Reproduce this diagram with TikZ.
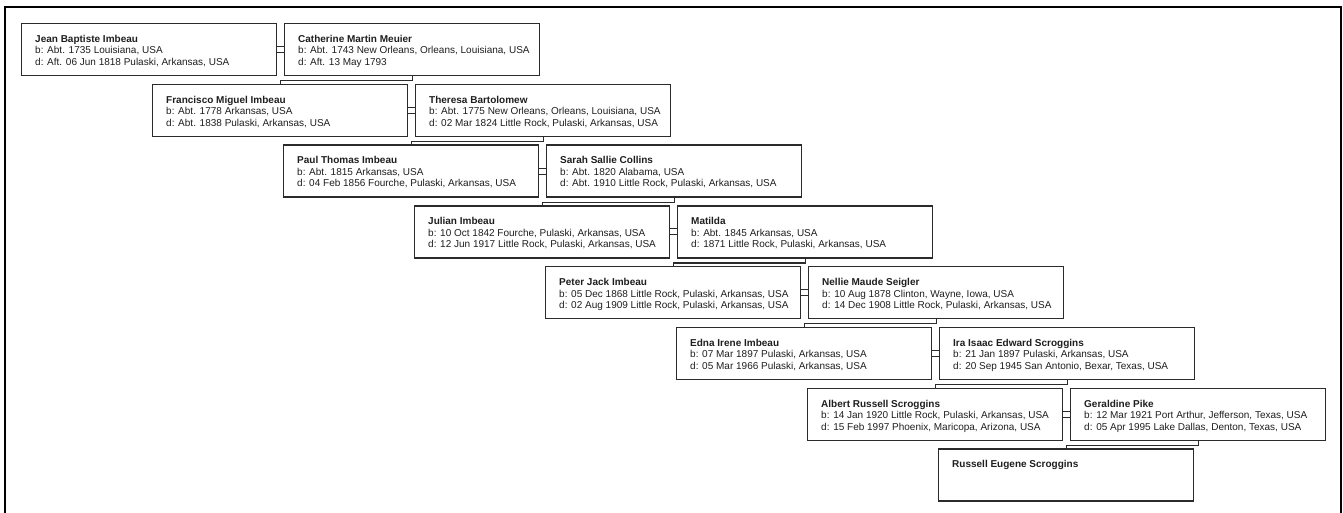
\documentclass[tikz,border=0pt]{standalone}
\usepackage{fontspec}
\setmainfont{Liberation Sans}
\definecolor{boxline}{HTML}{2B2B2B}
\definecolor{ink}{HTML}{1E1E1E}
\newcommand{\persinfo}[3]{\begin{tabular}[t]{@{}l@{}}\textbf{#1}\\ b: #2\\ d: #3\end{tabular}}
\newcommand{\persname}[1]{\begin{tabular}[t]{@{}l@{}}\textbf{#1}\end{tabular}}
\tikzset{
  person/.style={draw=boxline, line width=1.3pt, rectangle, minimum width=255pt,
    minimum height=52pt, inner sep=0pt, anchor=north west},
  info/.style={anchor=base west, inner sep=0pt, text=ink, font=\fontsize{10}{11.5}\selectfont},
  marriage/.style={draw=boxline, line width=1.1pt},
  descent/.style={draw=boxline, line width=1.3pt},
  frame/.style={draw=black, line width=2pt}
}
\begin{document}
\begin{tikzpicture}[x=1pt,y=-1pt]
\useasboundingbox (0,0) rectangle (1343,513);
\draw[frame] (5,530) -- (5,7) -- (1341,7) -- (1341,530);

% row 0
\node[person] (h0) at (21,23) {};
\node[info] (h0t) at ([shift={(14pt,-19.5pt)}]h0.north west) {\persinfo{Jean Baptiste Imbeau}{Abt. 1735 Louisiana, USA}{Aft. 06 Jun 1818 Pulaski, Arkansas, USA}};
\node[person] (w0) at (284,23) {};
\node[info] (w0t) at ([shift={(14pt,-19.5pt)}]w0.north west) {\persinfo{Catherine Martin Meuier}{Abt. 1743 New Orleans, Orleans, Louisiana, USA}{Aft. 13 May 1793}};
% row 1
\node[person] (h1) at (152,83.75) {};
\node[info] (h1t) at ([shift={(14pt,-19.5pt)}]h1.north west) {\persinfo{Francisco Miguel Imbeau}{Abt. 1778 Arkansas, USA}{Abt. 1838 Pulaski, Arkansas, USA}};
\node[person] (w1) at (415,83.75) {};
\node[info] (w1t) at ([shift={(14pt,-19.5pt)}]w1.north west) {\persinfo{Theresa Bartolomew}{Abt. 1775 New Orleans, Orleans, Louisiana, USA}{02 Mar 1824 Little Rock, Pulaski, Arkansas, USA}};
% row 2
\node[person] (h2) at (283,144.5) {};
\node[info] (h2t) at ([shift={(14pt,-19.5pt)}]h2.north west) {\persinfo{Paul Thomas Imbeau}{Abt. 1815 Arkansas, USA}{04 Feb 1856 Fourche, Pulaski, Arkansas, USA}};
\node[person] (w2) at (546,144.5) {};
\node[info] (w2t) at ([shift={(14pt,-19.5pt)}]w2.north west) {\persinfo{Sarah Sallie Collins}{Abt. 1820 Alabama, USA}{Abt. 1910 Little Rock, Pulaski, Arkansas, USA}};
% row 3
\node[person] (h3) at (414,205.25) {};
\node[info] (h3t) at ([shift={(14pt,-19.5pt)}]h3.north west) {\persinfo{Julian Imbeau}{10 Oct 1842 Fourche, Pulaski, Arkansas, USA}{12 Jun 1917 Little Rock, Pulaski, Arkansas, USA}};
\node[person] (w3) at (677,205.25) {};
\node[info] (w3t) at ([shift={(14pt,-19.5pt)}]w3.north west) {\persinfo{Matilda}{Abt. 1845 Arkansas, USA}{1871 Little Rock, Pulaski, Arkansas, USA}};
% row 4
\node[person] (h4) at (545,266) {};
\node[info] (h4t) at ([shift={(14pt,-19.5pt)}]h4.north west) {\persinfo{Peter Jack Imbeau}{05 Dec 1868 Little Rock, Pulaski, Arkansas, USA}{02 Aug 1909 Little Rock, Pulaski, Arkansas, USA}};
\node[person] (w4) at (808,266) {};
\node[info] (w4t) at ([shift={(14pt,-19.5pt)}]w4.north west) {\persinfo{Nellie Maude Seigler}{10 Aug 1878 Clinton, Wayne, Iowa, USA}{14 Dec 1908 Little Rock, Pulaski, Arkansas, USA}};
% row 5
\node[person] (h5) at (676,326.75) {};
\node[info] (h5t) at ([shift={(14pt,-19.5pt)}]h5.north west) {\persinfo{Edna Irene Imbeau}{07 Mar 1897 Pulaski, Arkansas, USA}{05 Mar 1966 Pulaski, Arkansas, USA}};
\node[person] (w5) at (939,326.75) {};
\node[info] (w5t) at ([shift={(14pt,-19.5pt)}]w5.north west) {\persinfo{Ira Isaac Edward Scroggins}{21 Jan 1897 Pulaski, Arkansas, USA}{20 Sep 1945 San Antonio, Bexar, Texas, USA}};
% row 6
\node[person] (h6) at (807,387.5) {};
\node[info] (h6t) at ([shift={(14pt,-19.5pt)}]h6.north west) {\persinfo{Albert Russell Scroggins}{14 Jan 1920 Little Rock, Pulaski, Arkansas, USA}{15 Feb 1997 Phoenix, Maricopa, Arizona, USA}};
\node[person] (w6) at (1070,387.5) {};
\node[info] (w6t) at ([shift={(14pt,-19.5pt)}]w6.north west) {\persinfo{Geraldine Pike}{12 Mar 1921 Port Arthur, Jefferson, Texas, USA}{05 Apr 1995 Lake Dallas, Denton, Texas, USA}};
% row 7
\node[person] (h7) at (938,448.25) {};
\node[info] (h7t) at ([shift={(14pt,-19.5pt)}]h7.north west) {\persname{Russell Eugene Scroggins}};

% marriages
\foreach \i in {0,...,6}{
  \draw[marriage] ([yshift=3pt]h\i.east) -- ([yshift=3pt]w\i.west);
  \draw[marriage] ([yshift=-3pt]h\i.east) -- ([yshift=-3pt]w\i.west);
}
% descent
\foreach \i/\j in {0/1,1/2,2/3,3/4,4/5,5/6,6/7}{
  \draw[descent] (w\i.south) -- ++(0,4.5) -| (h\j.north);
}
\end{tikzpicture}
\end{document}
